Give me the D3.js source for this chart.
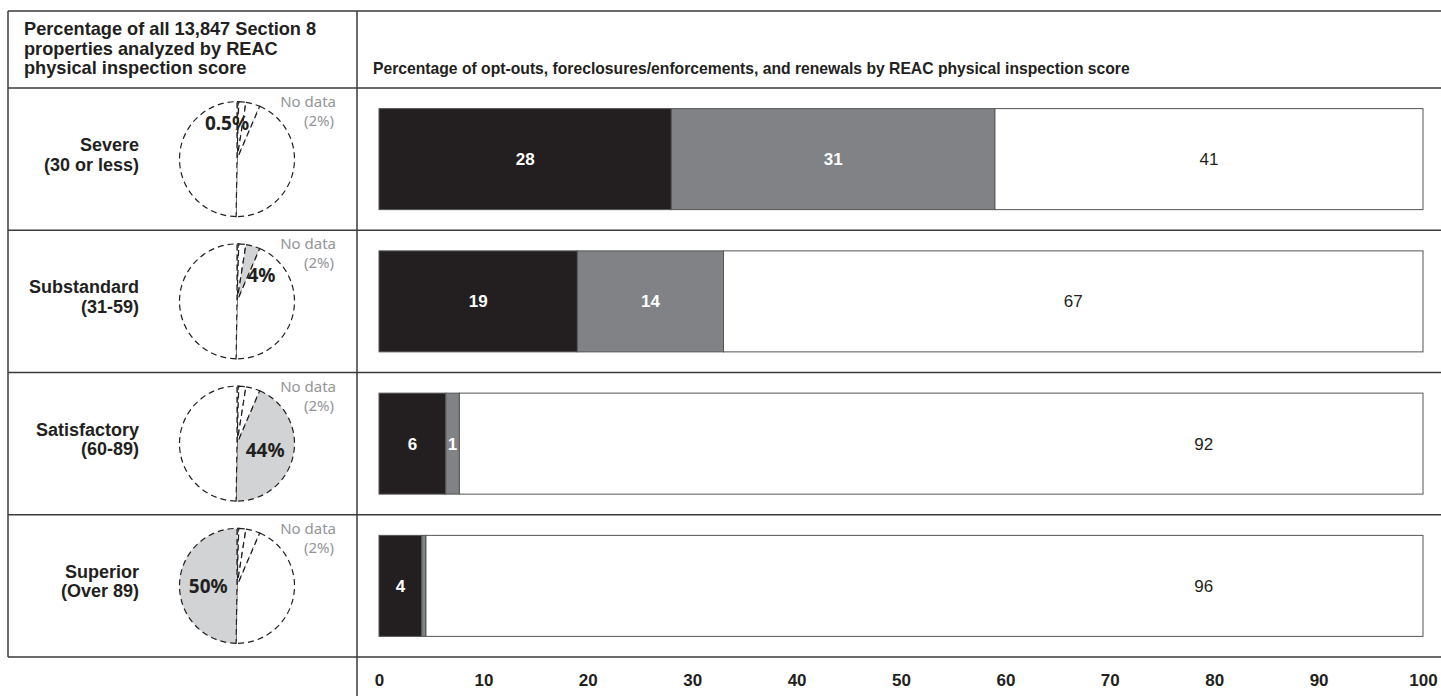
<!DOCTYPE html>
<html><head><meta charset="utf-8">
<script src="https://cdn.jsdelivr.net/npm/d3@7"></script>
<style>body{margin:0;background:#fff} svg{display:block}</style>
</head><body>
<script>
// ---- data ----
const categories = ["Severe", "Substandard", "Satisfactory", "Superior"];
const categoryRanges = ["(30 or less)", "(31-59)", "(60-89)", "(Over 89)"];
const pieShares = [0.5, 4, 44, 50];          // % of all 13,847 properties
const noDataShare = 2;                        // % with no data
const optOuts = [28, 19, 6.4, 4.1];
const foreclosures = [31, 14, 1.3, 0.4];
const renewals = [41, 67, 92.3, 95.5];
const xTicks = [0, 10, 20, 30, 40, 50, 60, 70, 80, 90, 100];
const leftTitle = ["Percentage of all 13,847 Section 8", "properties analyzed by REAC", "physical inspection score"];
const rightTitle = "Percentage of opt-outs, foreclosures/enforcements, and renewals by REAC physical inspection score";
const seriesNames = ["Opt-outs", "Foreclosures/enforcements", "Renewals"];
const seriesColors = ["#231f20", "#808285", "#ffffff"];

// ---- layout ----
const W = 1441, H = 696;
const boldFont = "'Liberation Sans', Arial, sans-serif";
const pieFont = "'Noto Sans', sans-serif";
const lineColor = "#3a3a3a";
const tableLeft = 8, tableTop = 11, divX = 357;

const svg = d3.select("body").append("svg").attr("width", W).attr("height", H);

const y = d3.scaleBand().domain(categories).range([88, 657]).paddingInner(0).paddingOuter(0);
const x = d3.scaleLinear().domain([0, 100]).range([379, 1423]);

// table lines
const g = svg.append("g").attr("stroke", lineColor).attr("stroke-width", 1.5);
g.append("line").attr("x1", tableLeft).attr("x2", W).attr("y1", tableTop).attr("y2", tableTop);
g.append("line").attr("x1", tableLeft).attr("x2", W).attr("y1", y.range()[0]).attr("y2", y.range()[0]);
categories.forEach(c => {
  const yy = y(c) + y.step();
  g.append("line").attr("x1", tableLeft).attr("x2", W).attr("y1", yy).attr("y2", yy);
});
g.append("line").attr("x1", tableLeft).attr("x2", tableLeft).attr("y1", tableTop).attr("y2", y.range()[1]);
g.append("line").attr("x1", divX).attr("x2", divX).attr("y1", tableTop).attr("y2", H);

// titles
const lt = svg.append("text").attr("font-family", boldFont).attr("font-weight", "bold")
  .attr("font-size", 18.2).attr("fill", "#231f20");
leftTitle.forEach((t, i) => lt.append("tspan").attr("x", 24).attr("y", 35 + i * 19.5).text(t));
svg.append("text").attr("x", 373).attr("y", 74).attr("font-family", boldFont).attr("font-weight", "bold")
  .attr("font-size", 15.7).attr("fill", "#231f20").text(rightTitle);

// row labels
categories.forEach((c, i) => {
  const cy = y(c) + y.step() / 2;
  const t = svg.append("text").attr("font-family", boldFont).attr("font-weight", "bold")
    .attr("font-size", 18).attr("fill", "#231f20").attr("text-anchor", "end");
  t.append("tspan").attr("x", 139).attr("y", cy - 8).text(c);
  t.append("tspan").attr("x", 139).attr("y", cy + 11.5).text(categoryRanges[i]);
});

// pies
const pieR = 57.5, pieCx = 237;
const pieValues = [pieShares[0], noDataShare, pieShares[1], pieShares[2], pieShares[3]];
const pieKeys = ["Severe", "No data", "Substandard", "Satisfactory", "Superior"];
const pieGen = d3.pie().sort(null).value(d => d.v);
const arc = d3.arc().innerRadius(0).outerRadius(pieR);
categories.forEach((c, i) => {
  const cy = y(c) + y.step() / 2;
  const pg = svg.append("g").attr("transform", `translate(${pieCx},${cy})`);
  const arcs = pieGen(pieValues.map((v, k) => ({ v, k: pieKeys[k] })));
  pg.selectAll("path").data(arcs).join("path")
    .attr("d", arc)
    .attr("fill", d => d.data.k === c ? "#d1d3d4" : "#fff")
    .attr("stroke", "#231f20").attr("stroke-width", 1.2)
    .attr("stroke-dasharray", "6,4").attr("stroke-linejoin", "miter");
  const hl = arcs.find(d => d.data.k === c);
  let px, py;
  if (pieShares[i] < 1) { px = -10; py = -pieR * 0.62; }
  else if (pieShares[i] < 10) {
    const a = hl.endAngle + 0.35, rr = pieR * 0.62;
    px = Math.sin(a) * rr; py = -Math.cos(a) * rr;
  } else { [px, py] = arc.centroid(hl); }
  pg.append("text").attr("x", px).attr("y", py).attr("dy", "0.36em")
    .attr("text-anchor", "middle").attr("font-family", pieFont).attr("font-weight", "bold")
    .attr("font-size", 19).attr("fill", "#231f20")
    .text(pieShares[i] + "%");
  const nd = svg.append("text").attr("font-family", pieFont).attr("font-size", 15)
    .attr("fill", "#939598").attr("text-anchor", "end");
  nd.append("tspan").attr("x", 336).attr("y", cy - 52).text("No data");
  nd.append("tspan").attr("x", 334).attr("y", cy - 33).text(`(${noDataShare}%)`);
});

// stacked bars
const rows = categories.map((c, i) => ({ cat: c, "Opt-outs": optOuts[i], "Foreclosures/enforcements": foreclosures[i], "Renewals": renewals[i] }));
const stack = d3.stack().keys(seriesNames)(rows);
stack.forEach((layer, si) => {
  const lg = svg.append("g");
  layer.forEach((d, ri) => {
    const cy = y(categories[ri]) + y.step() / 2;
    const x0 = x(d[0]), x1 = x(d[1]);
    lg.append("rect").attr("x", x0).attr("y", cy - 50.5).attr("width", x1 - x0).attr("height", 101)
      .attr("fill", seriesColors[si]).attr("stroke", "#555").attr("stroke-width", 1);
    const v = d[1] - d[0];
    const lbl = Math.round(v);
    if (lbl >= 1) {
      const lx = (si === 2 && v > 85) ? x(79) : (x0 + x1) / 2;
      lg.append("text").attr("x", lx).attr("y", cy).attr("dy", "0.36em").attr("text-anchor", "middle")
        .attr("font-family", boldFont).attr("font-weight", si < 2 ? "bold" : "normal")
        .attr("font-size", 17).attr("fill", si < 2 ? "#fff" : "#231f20").text(lbl);
    }
  });
});

// axis
const axis = d3.axisBottom(x).tickValues(xTicks).tickSize(0).tickPadding(17).tickFormat(d3.format("d"));
const ag = svg.append("g").attr("transform", `translate(0,${y.range()[1]})`).call(axis);
ag.select(".domain").remove();
ag.selectAll("text").attr("font-family", boldFont).attr("font-weight", "bold").attr("font-size", 17).attr("fill", "#231f20");
</script>
</body></html>
